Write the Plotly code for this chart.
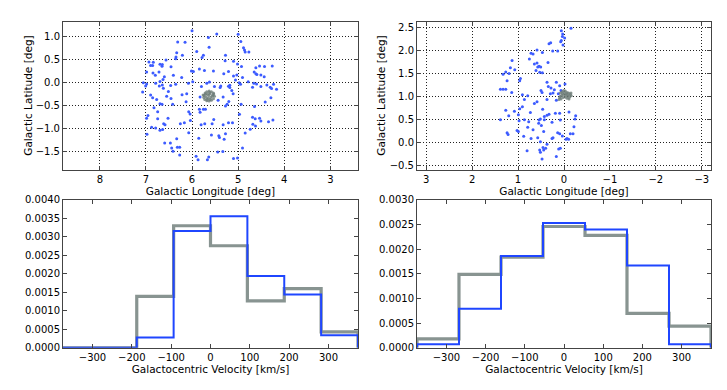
import plotly.graph_objects as go

# ---- data ----
# field 1 (upper left): blue stars and grey cluster members
f1_lon = [6.0, 5.464, 5.0, 5.645, 4.942, 6.312, 6.152, 5.63, 4.884, 4.862, 4.848, 4.768,
          5.899, 6.333, 6.348, 6.21, 5.754, 5.783, 5.275, 6.355, 6.565, 6.841, 6.935, 6.899,
          6.855, 6.696, 6.645, 6.652, 5.283, 5.101, 5.014, 4.928, 4.616, 4.536, 4.428, 4.261,
          5.841, 6.457, 6.986, 6.848, 6.797, 6.717, 6.014, 5.971, 5.732, 5.536, 5.312, 5.21,
          5.101, 5.029, 4.906, 4.652, 4.594, 4.507, 4.435, 4.616, 6.406, 6.225, 6.601, 6.696,
          6.79, 7.058, 6.986, 7.007, 6.63, 6.645, 6.71, 6.623, 6.464, 6.355, 6.08, 5.986,
          5.797, 5.681, 5.623, 5.514, 5.377, 5.181, 5.058, 4.978, 4.949, 5.21, 5.391, 5.181,
          5.138, 5.109, 4.783, 4.659, 4.601, 4.507, 4.688, 4.377, 4.304, 4.232, 4.167, 4.275,
          7.072, 6.899, 6.855, 6.768, 6.514, 6.551, 6.457, 6.42, 6.217, 6.116, 6.13, 5.826,
          5.435, 5.326, 5.203, 5.239, 5.275, 4.935, 4.645, 4.413, 4.29, 6.957, 6.986, 6.826,
          6.746, 6.696, 6.652, 5.826, 5.841, 6.043, 6.072, 5.71, 5.754, 5.529, 5.565, 5.725,
          5.804, 6.167, 6.254, 6.036, 6.616, 6.587, 6.746, 6.522, 6.79, 6.638, 6.696, 6.978,
          6.877, 5.21, 5.123, 5.326, 4.971, 4.688, 4.63, 4.536, 4.681, 4.623, 4.739, 4.507,
          4.341, 4.246, 4.848, 5.275, 5.304, 5.58, 5.42, 5.406, 6.072, 5.855, 6.333, 6.594,
          6.471, 6.319, 6.268, 6.442, 6.413, 6.268, 5.442, 5.333, 4.906, 5.913, 5.87, 5.638,
          5.667, 5.101, 5.014]
f1_lat = [1.126, 1.056, 1.049, 0.979, 0.895, 0.881, 0.874, 0.769, 0.755, 0.706, 0.664, 0.664,
          0.678, 0.65, 0.559, 0.594, 0.594, 0.545, 0.594, 0.517, 0.49, 0.441, 0.448, 0.371,
          0.371, 0.399, 0.392, 0.357, 0.476, 0.462, 0.406, 0.35, 0.322, 0.364, 0.35, 0.364,
          0.294, 0.343, 0.231, 0.21, 0.161, 0.231, 0.252, 0.245, 0.266, 0.252, 0.196, 0.245,
          0.147, 0.168, 0.112, 0.231, 0.175, 0.168, 0.126, 0.196, 0.161, 0.112, 0.126, 0.028,
          -0.014, 0.0, -0.028, -0.07, 0.07, -0.049, -0.07, -0.119, -0.063, -0.035, -0.014, 0.021,
          -0.084, -0.014, 0.014, -0.084, -0.07, -0.056, 0.056, 0.0, -0.035, -0.077, -0.105, -0.105,
          -0.168, -0.238, 0.021, -0.014, -0.028, -0.084, -0.098, -0.049, -0.098, -0.035, -0.14, -0.126,
          -0.203, -0.266, -0.329, -0.364, -0.189, -0.294, -0.343, -0.469, -0.259, -0.238, -0.413, -0.308,
          -0.378, -0.308, -0.406, -0.469, -0.503, -0.469, -0.517, -0.42, -0.329, -0.713, -0.769, -0.545,
          -0.629, -0.455, -0.469, -0.643, -0.573, -0.678, -0.629, -0.573, -0.573, -0.797, -0.888, -0.888,
          -0.909, -0.867, -0.888, -0.818, -0.888, -0.909, -0.783, -0.769, -0.979, -1.014, -1.028, -1.119,
          -0.965, -0.867, -0.867, -0.909, -0.685, -0.748, -0.783, -0.769, -0.902, -0.937, -1.007, -0.832,
          -0.846, -0.811, -1.091, -1.105, -1.224, -1.133, -1.147, -1.189, -1.084, -1.203, -1.217, -1.308,
          -1.308, -1.399, -1.399, -1.413, -1.483, -1.566, -1.503, -1.49, -1.413, -1.594, -1.671, -1.608,
          -1.671, -1.643, -1.629]
f1_cl_lon = [5.717, 5.681, 5.63, 5.58, 5.536, 5.739, 5.746, 5.725, 5.681, 5.63, 5.58, 5.536,
             5.514, 5.551, 5.609, 5.667, 5.696, 5.652, 5.594, 5.565, 5.638, 5.71, 5.609, 5.674,
             5.529, 5.761, 5.623]
f1_cl_lat = [-0.224, -0.196, -0.182, -0.196, -0.224, -0.28, -0.322, -0.364, -0.392, -0.399, -0.378,
             -0.35, -0.294, -0.266, -0.238, -0.252, -0.308, -0.336, -0.322, -0.294, -0.28, -0.252,
             -0.364, -0.357, -0.245, -0.266, -0.21]

# field 2 (upper right)
f2_lon = [-0.152, 0.058, 0.029, 0.036, -0.014, 0.058, 0.022, 0.072, 0.29, 0.326, 0.246, 0.138,
          0.471, 0.587, 0.674, 0.717, 0.348, 0.645, 0.587, 0.543, 0.507, 0.572, 0.471, 0.529,
          0.609, 0.754, 1.13, 1.167, 1.072, 1.196, 1.326, 1.268, 1.239, 0.949, 0.964, 1.384,
          1.326, 1.268, 1.138, 0.37, 0.167, 0.094, -0.022, 0.341, 0.5, 0.478, 0.283, 0.239,
          0.297, 0.21, 0.065, 0.123, 0.167, 0.37, 0.906, 0.862, 0.645, 0.587, 0.79, 1.268,
          1.08, 1.203, 1.384, 0.964, 0.906, 0.993, 0.732, 0.464, 0.428, 0.37, 0.326, 0.188,
          0.094, -0.109, -0.254, -0.239, -0.217, 0.862, 0.978, 0.768, 0.514, 0.543, 0.551, 0.493,
          0.08, 0.261, 0.428, 0.79, 0.674, 0.442, 1.022, 0.993, 1.239, 1.217, 0.877, 0.572,
          0.261, 0.239, 0.138, 0.094, 0.036, -0.043, -0.065, -0.101, -0.138, -0.196, 0.514, 0.37,
          0.457, 0.442, 0.514, 0.529, 0.399, 0.478, 0.804, 0.116, 0.08, 0.167, 0.717]
f2_lat = [2.486, 2.43, 2.359, 2.303, 2.275, 2.218, 2.12, 2.19, 2.169, 2.148, 1.993, 1.993,
          1.958, 2.014, 1.923, 1.944, 1.739, 1.711, 1.732, 1.662, 1.641, 1.641, 1.521, 1.528,
          1.57, 1.817, 1.782, 1.627, 1.585, 1.5, 1.486, 1.535, 1.345, 1.394, 1.345, 1.162,
          1.162, 1.162, 1.092, 1.31, 1.31, 1.239, 1.275, 1.218, 1.134, 1.092, 1.19, 1.077,
          1.063, 1.148, 1.134, 1.063, 0.923, 0.937, 1.042, 0.937, 0.852, 0.887, 1.021, 0.704,
          0.683, 0.585, 0.5, 0.739, 0.782, 0.606, 0.655, 0.725, 0.57, 0.599, 0.62, 0.641,
          0.641, 0.669, 0.585, 0.514, 0.345, 0.5, 0.479, 0.458, 0.514, 0.493, 0.423, 0.373,
          0.493, 0.444, 0.5, 0.338, 0.282, 0.246, 0.268, 0.246, 0.218, 0.176, 0.141, 0.106,
          0.092, 0.106, 0.218, 0.197, 0.148, 0.077, 0.092, 0.077, 0.197, 0.197, 0.021, -0.035,
          -0.106, -0.155, -0.204, -0.155, -0.12, -0.352, -0.176, -0.134, -0.12, -0.296, 0.092]
f2_cl_lon = [0.08, 0.043, 0.007, -0.029, -0.065, -0.101, -0.138, -0.159, -0.123, -0.08, -0.036,
             0.007, 0.051, 0.094, 0.109, 0.065, 0.022, -0.022, -0.065, -0.109, -0.007, -0.051,
             -0.094, 0.036, 0.08, -0.152]
f2_cl_lat = [1.077, 1.106, 1.134, 1.12, 1.092, 1.077, 1.049, 1.021, 0.993, 1.007, 1.035, 1.049,
             1.021, 0.979, 0.937, 0.951, 0.979, 0.993, 0.965, 0.951, 1.092, 1.063, 1.035, 1.063,
             1.007, 1.077]

# velocity histograms (normalised)
f1_edges = [-375, -281.25, -187.5, -93.75, 0, 93.75, 187.5, 281.25, 375]
f1_hist_grey = [0.0, 0.0, 0.00139, 0.0033, 0.00276, 0.00127, 0.0016, 0.00043]
f1_hist_blue = [0.0, 0.0, 0.00028, 0.00316, 0.00356, 0.00194, 0.00144, 0.00034]

f2_edges = [-375, -267.9, -160.7, -53.6, 53.6, 160.7, 267.9, 375]
f2_hist_grey = [0.00018, 0.00149, 0.00184, 0.00246, 0.00228, 0.0007, 0.00044]
f2_hist_blue = [0.00007, 0.00079, 0.00186, 0.00253, 0.0024, 0.00167, 0.00007]

BLUE_PT = "#3d5cff"
GREY_PT = "#6c7a76"
BLUE_LN = "#1f46ff"
GREY_LN = "#7c8985"
FONT = "DejaVu Sans"

# the page body has an 8px margin, so the figure is drawn a bit smaller
W, H, OFF = 711, 374, 8


def step_outline(edges, vals):
    xs, ys = [edges[0]], [0.0]
    for i, v in enumerate(vals):
        xs += [edges[i], edges[i + 1]]
        ys += [v, v]
    xs.append(edges[-1])
    ys.append(0.0)
    return xs, ys


def xdom(a, b):
    return [(a - OFF) / W, (b - OFF) / W]


def ydom(top, bottom):
    return [1 - (bottom - OFF) / H, 1 - (top - OFF) / H]


fig = go.Figure()

# scatter panels
fig.add_trace(go.Scatter(x=f1_lon, y=f1_lat, mode="markers", xaxis="x", yaxis="y",
                         marker=dict(color=BLUE_PT, size=3, line=dict(width=0))))
fig.add_trace(go.Scatter(x=f1_cl_lon, y=f1_cl_lat, mode="markers", xaxis="x", yaxis="y",
                         marker=dict(color=GREY_PT, size=3, opacity=0.8, line=dict(width=0))))
fig.add_trace(go.Scatter(x=f2_lon, y=f2_lat, mode="markers", xaxis="x2", yaxis="y2",
                         marker=dict(color=BLUE_PT, size=3, line=dict(width=0))))
fig.add_trace(go.Scatter(x=f2_cl_lon, y=f2_cl_lat, mode="markers", xaxis="x2", yaxis="y2",
                         marker=dict(color=GREY_PT, size=3, opacity=0.8, line=dict(width=0))))

# histogram panels
for edges, grey, blue, xa, ya in [(f1_edges, f1_hist_grey, f1_hist_blue, "x3", "y3"),
                                  (f2_edges, f2_hist_grey, f2_hist_blue, "x4", "y4")]:
    gx, gy = step_outline(edges, grey)
    bx, by = step_outline(edges, blue)
    fig.add_trace(go.Scatter(x=gx, y=gy, mode="lines", xaxis=xa, yaxis=ya,
                             line=dict(color=GREY_LN, width=3.2), opacity=0.9))
    fig.add_trace(go.Scatter(x=bx, y=by, mode="lines", xaxis=xa, yaxis=ya,
                             line=dict(color=BLUE_LN, width=2)))

tickfont = dict(family=FONT, size=10, color="black")
titlefont = dict(family=FONT, size=10.5, color="black")
common = dict(showline=True, linecolor="#444", linewidth=1, mirror="allticks",
              ticks="inside", ticklen=4, tickcolor="#444", tickfont=tickfont,
              zeroline=False)
grid = dict(showgrid=True, gridcolor="#222", griddash="1px,2px", gridwidth=0.9)
nogrid = dict(showgrid=False)

xd_l = xdom(63, 358)
xd_r = xdom(417, 711)
yd_t = ydom(17, 169)
yd_b = ydom(200, 352)

# y-axis titles placed where matplotlib put them
ytitles = []
for xpix in (28, 381):
    ytitles.append(dict(text="Galactic Latitude [deg]", xref="paper", yref="paper",
                        x=(xpix - OFF) / W, y=sum(yd_t) / 2, textangle=-90,
                        showarrow=False, font=titlefont, xanchor="center", yanchor="middle"))

fig.update_layout(
    width=W, height=H,
    margin=dict(l=0, r=0, t=0, b=0),
    paper_bgcolor="white", plot_bgcolor="white",
    showlegend=False,
    font=dict(family=FONT, color="black"),
    annotations=ytitles,
    xaxis=dict(domain=xd_l, anchor="y", range=[8.8, 2.4], dtick=1,
               title=dict(text="Galactic Longitude [deg]", font=titlefont, standoff=2),
               **common, **grid),
    yaxis=dict(domain=yd_t, anchor="x", range=[-1.885, 1.32], dtick=0.5, tickformat=".1f",
               **common, **grid),
    xaxis2=dict(domain=xd_r, anchor="y2", range=[3.2, -3.2], dtick=1,
                title=dict(text="Galactic Longitude [deg]", font=titlefont, standoff=2),
                **common, **grid),
    yaxis2=dict(domain=yd_t, anchor="x2", range=[-0.585, 2.625], dtick=0.5, tickformat=".1f",
                **common, **grid),
    xaxis3=dict(domain=xd_l, anchor="y3", range=[-375, 375], dtick=100,
                title=dict(text="Galactocentric Velocity [km/s]", font=titlefont, standoff=2),
                **common, **nogrid),
    yaxis3=dict(domain=yd_b, anchor="x3", range=[0, 0.004], dtick=0.0005, tickformat=".4f",
                **common, **nogrid),
    xaxis4=dict(domain=xd_r, anchor="y4", range=[-375, 375], dtick=100,
                title=dict(text="Galactocentric Velocity [km/s]", font=titlefont, standoff=2),
                **common, **nogrid),
    yaxis4=dict(domain=yd_b, anchor="x4", range=[0, 0.003], dtick=0.0005, tickformat=".4f",
                **common, **nogrid),
)

fig.write_html("out.html")
